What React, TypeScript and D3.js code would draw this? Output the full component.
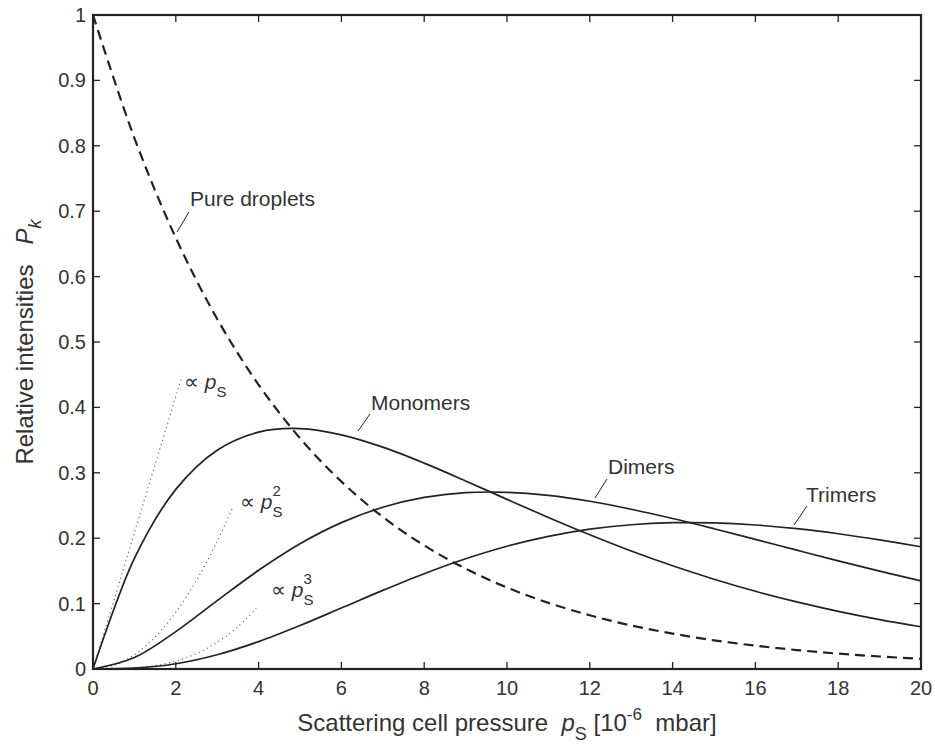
import React from "react";
import * as d3 from "d3";

// Scattering cell pressure samples [10^-6 mbar]
const pressure = [0, 1, 2, 3, 4, 5, 6, 7, 8, 9, 10, 11, 12, 13, 14, 15, 16, 17, 18, 19, 20];
// Relative intensities P_k
const pureDroplets = [1, 0.8119, 0.6592, 0.5353, 0.4346, 0.3529, 0.2865, 0.2326, 0.1889, 0.1534, 0.1245, 0.1011, 0.0821, 0.0666, 0.0541, 0.0439, 0.0357, 0.029, 0.0235, 0.0191, 0.0155];
const monomers = [0, 0.1691, 0.2747, 0.3346, 0.3622, 0.3676, 0.3581, 0.3392, 0.3148, 0.2876, 0.2594, 0.2317, 0.2052, 0.1804, 0.1578, 0.1373, 0.1189, 0.1026, 0.0882, 0.0756, 0.0646];
const dimers = [0, 0.0176, 0.0572, 0.1045, 0.1509, 0.1915, 0.2238, 0.2473, 0.2623, 0.2696, 0.2702, 0.2655, 0.2565, 0.2443, 0.2301, 0.2145, 0.1982, 0.1817, 0.1654, 0.1496, 0.1346];
const trimers = [0, 0.0012, 0.008, 0.0218, 0.0419, 0.0665, 0.0933, 0.1202, 0.1457, 0.1685, 0.1877, 0.2028, 0.2138, 0.2206, 0.2237, 0.2234, 0.2202, 0.2145, 0.2068, 0.1974, 0.1869];

// Low-pressure asymptotes
const linPressure = [0, 2.15];
const linValues = [0, 0.448];
const quadPressure = [0, 0.5, 1, 1.5, 2, 2.5, 3, 3.36];
const quadValues = [0, 0.0054, 0.0217, 0.0488, 0.0868, 0.1356, 0.1953, 0.245];
const cubPressure = [0, 0.5, 1, 1.5, 2, 2.5, 3, 3.5, 4];
const cubValues = [0, 0.0002, 0.0015, 0.0051, 0.0121, 0.0236, 0.0407, 0.0646, 0.0965];

const xTicks = [0, 2, 4, 6, 8, 10, 12, 14, 16, 18, 20];
const yTicks = [0, 0.1, 0.2, 0.3, 0.4, 0.5, 0.6, 0.7, 0.8, 0.9, 1];

const W = 935;
const H = 745;
const left = 93;
const right = 921;
const top = 15;
const bottom = 669;
const ink = "#222";
const font = "'Liberation Sans', 'DejaVu Sans', Arial, sans-serif";

export default function App() {
  const x = d3.scaleLinear().domain([0, 20]).range([left, right]);
  const y = d3.scaleLinear().domain([0, 1]).range([bottom, top]);

  const path = (xs: number[], ys: number[]) =>
    d3
      .line<number>()
      .x((_, i) => x(xs[i]))
      .y((d) => y(d))
      .curve(d3.curveCatmullRom.alpha(0.5))(ys) || "";

  const tickLen = 7;
  const fs = 21;
  const titleFs = 24;

  return (
    <div style={{ position: "absolute", left: 0, top: 0 }}>
      <svg width={W} height={H} style={{ display: "block", background: "#fff" }} fontFamily={font}>
        <defs>
          <clipPath id="plot">
            <rect x={left} y={top} width={right - left} height={bottom - top} />
          </clipPath>
        </defs>

        <g clipPath="url(#plot)" fill="none">
          <path d={path(linPressure, linValues)} stroke="#555" strokeWidth={1.2} strokeDasharray="1 3.5" />
          <path d={path(quadPressure, quadValues)} stroke="#555" strokeWidth={1.2} strokeDasharray="1 3.5" />
          <path d={path(cubPressure, cubValues)} stroke="#555" strokeWidth={1.2} strokeDasharray="1 3.5" />
          <path d={path(pressure, monomers)} stroke={ink} strokeWidth={1.7} />
          <path d={path(pressure, dimers)} stroke={ink} strokeWidth={1.7} />
          <path d={path(pressure, trimers)} stroke={ink} strokeWidth={1.7} />
          <path d={path(pressure, pureDroplets)} stroke={ink} strokeWidth={2.2} strokeDasharray="10 6" />
        </g>

        {/* Ticks on all four sides, pointing inward */}
        <g stroke={ink} strokeWidth={1.3}>
          {xTicks.map((t) => (
            <g key={"x" + t}>
              <line x1={x(t)} x2={x(t)} y1={bottom} y2={bottom - tickLen} />
              <line x1={x(t)} x2={x(t)} y1={top} y2={top + tickLen} />
            </g>
          ))}
          {yTicks.map((t) => (
            <g key={"y" + t}>
              <line x1={left} x2={left + tickLen} y1={y(t)} y2={y(t)} />
              <line x1={right} x2={right - tickLen} y1={y(t)} y2={y(t)} />
            </g>
          ))}
        </g>
        <rect x={left} y={top} width={right - left} height={bottom - top} fill="none" stroke={ink} strokeWidth={2.2} />

        <g fill="#333" fontSize={20}>
          {xTicks.map((t) => (
            <text key={"xl" + t} x={x(t)} y={695} textAnchor="middle">
              {t}
            </text>
          ))}
          {yTicks.map((t) => (
            <text key={"yl" + t} x={86} y={y(t) + 7} textAnchor="end">
              {t}
            </text>
          ))}
        </g>

        <g fill="#333" fontSize={titleFs}>
          <text x={(left + right) / 2} y={731} textAnchor="middle">
            Scattering cell pressure{"\u00a0\u00a0"}
            <tspan fontStyle="italic">p</tspan>
            <tspan fontSize={18} dy={9}>S</tspan>
            <tspan dy={-9}>{"\u00a0"}[10</tspan>
            <tspan fontSize={17} dy={-11}>-6</tspan>
            <tspan dy={11}>{"\u00a0\u00a0"}mbar]</tspan>
          </text>

          <text transform={`translate(33,${(top + bottom) / 2}) rotate(-90)`} textAnchor="middle">
            Relative intensities{"\u00a0\u00a0\u00a0"}
            <tspan fontStyle="italic">P</tspan>
            <tspan fontSize={18} fontStyle="italic" dy={8}>k</tspan>
          </text>
        </g>

        <g fill="#333" fontSize={fs}>
          <text x={190} y={206}>Pure droplets</text>
          <text x={371} y={410}>Monomers</text>
          <text x={608} y={474}>Dimers</text>
          <text x={806} y={502}>Trimers</text>

          <text x={184} y={389}>
            {"\u221d "}
            <tspan fontStyle="italic">p</tspan>
            <tspan fontSize={15} dy={8}>S</tspan>
          </text>
          <text x={240} y={509}>
            {"\u221d "}
            <tspan fontStyle="italic">p</tspan>
            <tspan fontSize={15} dy={8}>S</tspan>
            <tspan fontSize={15} dx={-10} dy={-21}>2</tspan>
          </text>
          <text x={271} y={597}>
            {"\u221d "}
            <tspan fontStyle="italic">p</tspan>
            <tspan fontSize={15} dy={8}>S</tspan>
            <tspan fontSize={15} dx={-10} dy={-21}>3</tspan>
          </text>
        </g>

        {/* Leader lines from labels to curves */}
        <g stroke={ink} strokeWidth={1}>
          <line x1={189} y1={212} x2={177} y2={232} />
          <line x1={370} y1={414} x2={358} y2={431} />
          <line x1={607} y1={479} x2={595} y2={498} />
          <line x1={807} y1={506} x2={794} y2={525} />
        </g>
      </svg>
    </div>
  );
}
